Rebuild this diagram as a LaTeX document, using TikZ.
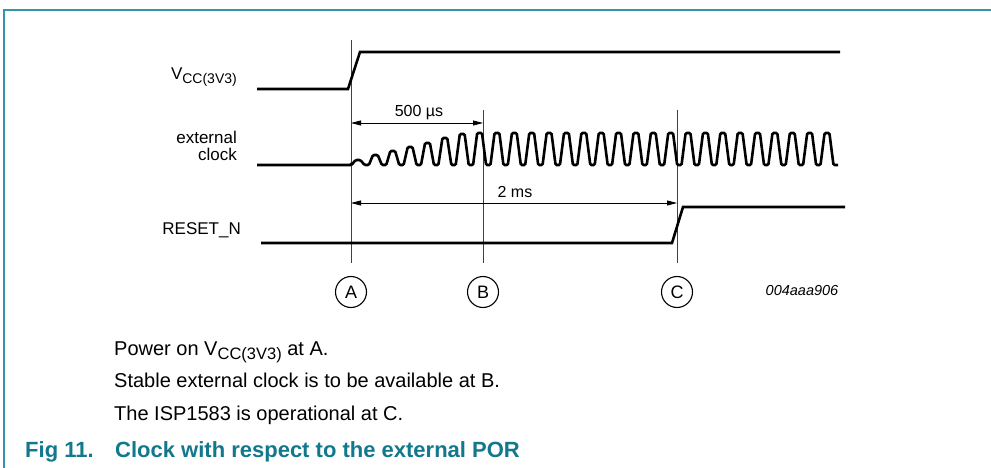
\documentclass[tikz,border=0pt]{standalone}
\usepackage{fontspec}
\setmainfont{Liberation Sans}
\usetikzlibrary{arrows.meta}
\definecolor{frameteal}{RGB}{50,150,170}
\definecolor{titleteal}{RGB}{18,120,140}
\tikzset{
  sig/.style={line width=2.6pt},
  markline/.style={line width=0.9pt, black!75},
  dimline/.style={line width=0.8pt, {Triangle[length=10pt,width=5pt]}-{Triangle[length=10pt,width=5pt]}},
  lbl/.style={font=\fontsize{17}{17}\selectfont, inner sep=0pt},
  dimlbl/.style={font=\fontsize{16}{16}\selectfont, inner sep=0pt},
  circmark/.style={draw, circle, minimum size=31pt, inner sep=0pt, line width=1.1pt, font=\fontsize{18}{18}\selectfont},
  bodytxt/.style={font=\fontsize{20}{20}\selectfont, inner sep=0pt},
  figtitle/.style={font=\fontsize{22}{22}\selectfont\bfseries, text=titleteal, inner sep=0pt},
  refcode/.style={font=\fontsize{14.5}{14.5}\selectfont\itshape, inner sep=0pt}
}
\begin{document}
\begin{tikzpicture}[x=1pt,y=-1pt]
\useasboundingbox (0,0) rectangle (991,468);
% frame
\draw[frameteal, line width=1.4pt] (991,10) -- (4,10) -- (4,468);

% signal labels
\node[lbl, anchor=base east] (vcc) at (237,80) {V\raisebox{-4pt}{\fontsize{14}{14}\selectfont CC(3V3)}};
\node[lbl, anchor=base east] (ext1) at (237,144) {external};
\node[lbl, anchor=base east] (ext2) at (237,160.5) {clock};
\node[lbl, anchor=base east] (rst) at (241,234) {RESET\_N};

% marker lines
\coordinate (At) at (351,40);  \coordinate (Ab) at (351,263);
\coordinate (Bt) at (483,110); \coordinate (Bb) at (483,263);
\coordinate (Ct) at (677,110); \coordinate (Cb) at (677,263);
\draw[markline] (At) -- (Ab);
\draw[markline] (Bt) -- (Bb);
\draw[markline] (Ct) -- (Cb);

% VCC
\draw[sig] (257,89) -- (348,89) -- (360,52) -- (840,52);

% RESET_N
\draw[sig] (261,243) -- (672,243) -- (683,207) -- (845,207);

% external clock
\draw[sig, rounded corners=1.2pt] (257,165) -- (351.5,165)
  \foreach \a [count=\k from 0] in {5,10,14,18,22,27,31,32,32,32,32,32,32,32,32,32,32,32,32,32,32,32,32,32,32,32,32,32} {
    -- ({358+\k*17.37-6.5},165)
    -- ({358+\k*17.37-2.4},{165-\a})
    -- ({358+\k*17.37+2.4},{165-\a})
    -- ({358+\k*17.37+6.5},165)
  } -- (838,165);

% dimension arrows
\draw[dimline] (Ab |- 0,123) -- (Bb |- 0,123);
\node[dimlbl, anchor=base] (t500) at (419,117) {500 µs};
\draw[dimline] (Ab |- 0,203) -- (Cb |- 0,203);
\node[dimlbl, anchor=base] (t2ms) at (515,197) {2 ms};

% circled markers
\node[circmark] (mA) at (351,292) {A};
\node[circmark] (mB) at (483,292) {B};
\node[circmark] (mC) at (677,292) {C};

\node[refcode, anchor=base] (code) at (802,295) {004aaa906};

% notes
\node[bodytxt, anchor=base west] (n1) at (114,355) {Power on V\raisebox{-4.5pt}{\fontsize{16.5}{16.5}\selectfont CC(3V3)} at A.};
\node[bodytxt, anchor=base west] (n2) at (114,387) {Stable external clock is to be available at B.};
\node[bodytxt, anchor=base west] (n3) at (114,420) {The ISP1583 is operational at C.};

% title
\node[figtitle, anchor=base west] (f1) at (25,457) {Fig 11.};
\node[figtitle, anchor=base west] (f2) at (115,457) {Clock with respect to the external POR};
\end{tikzpicture}
\end{document}
